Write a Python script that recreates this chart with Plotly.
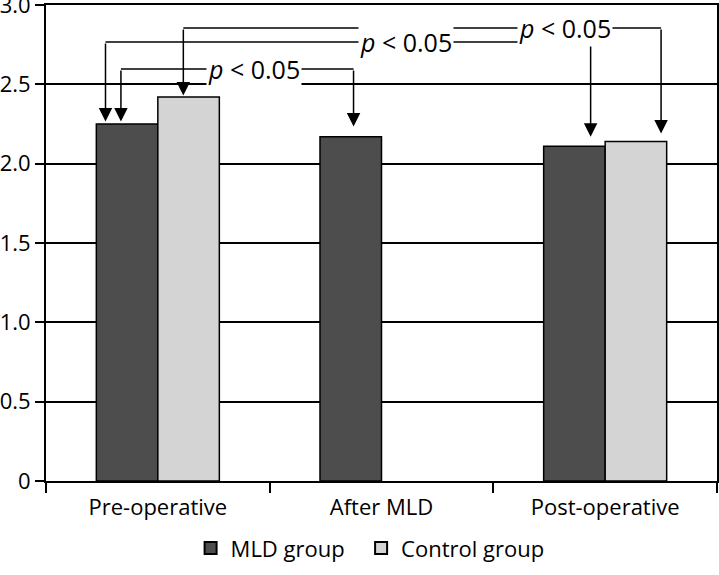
import plotly.graph_objects as go

categories = ["Pre-operative", "After MLD", "Post-operative"]
mld_group = [2.25, 2.17, 2.11]
control_group = [2.42, None, 2.14]
series_names = ["MLD group", "Control group"]
y_ticks = [0, 0.5, 1.0, 1.5, 2.0, 2.5, 3.0]
y_tick_labels = ["0", "0.5", "1.0", "1.5", "2.0", "2.5", "3.0"]

# significance brackets: (left x, left tip y, right x, right tip y, bracket y, label x)
brackets = [
    (-0.165, 2.265, 0.875, 2.235, 2.597, 0.43),
    (-0.234, 2.265, 1.935, 2.17, 2.767, 1.108),
    (0.114, 2.43, 2.25, 2.19, 2.855, 1.82),
]
p_label = "<i>p</i> < 0.05"

FONT = "Open Sans"

fig = go.Figure()
fig.add_trace(go.Bar(
    x=categories, y=mld_group, name=series_names[0] + "&nbsp;&nbsp;",
    marker=dict(color="#4d4d4d", line=dict(color="black", width=1.5)),
))
fig.add_trace(go.Bar(
    x=categories, y=control_group, name=series_names[1],
    marker=dict(color="#d4d4d4", line=dict(color="black", width=1.5)),
))

annotations = []
shapes = []
for xl, yl, xr, yr, yb, xt in brackets:
    shapes.append(dict(type="line", xref="x", yref="y", x0=xl, x1=xr, y0=yb, y1=yb,
                       line=dict(color="black", width=1.5)))
    for x, y in [(xl, yl), (xr, yr)]:
        annotations.append(dict(x=x, y=y, ax=x, ay=yb, axref="x", ayref="y",
                                xref="x", yref="y", text="", showarrow=True,
                                arrowhead=2, arrowsize=1.8, arrowwidth=1.5,
                                arrowcolor="black"))
    annotations.append(dict(x=xt, y=yb, xref="x", yref="y", text=p_label,
                            showarrow=False, bgcolor="white", borderpad=1,
                            font=dict(family=FONT, size=25, color="black")))

fig.update_layout(
    width=719, height=575,
    margin=dict(l=46, r=2, t=5, b=94),
    paper_bgcolor="white", plot_bgcolor="white",
    barmode="group", bargap=0.45, bargroupgap=0,
    font=dict(family=FONT, size=22, color="black"),
    showlegend=True,
    legend=dict(orientation="h", x=0.483, xanchor="center", y=-0.141, yanchor="middle",
                font=dict(family=FONT, size=22), itemsizing="constant"),
    shapes=shapes,
    annotations=annotations,
)
fig.update_xaxes(
    range=[-0.5, 2.5], showline=True, linecolor="black", linewidth=2, mirror=True,
    ticks="outside", tickson="boundaries", ticklen=10, tickwidth=2, tickcolor="black",
    ticklabelstandoff=6, showgrid=False, automargin=False,
)
fig.update_yaxes(
    range=[0, 3], tickvals=y_ticks, ticktext=y_tick_labels,
    showline=True, linecolor="black", linewidth=2, mirror=True,
    ticks="outside", ticklen=9, tickwidth=2, tickcolor="black",
    ticklabeloverflow="allow",
    showgrid=True, gridcolor="black", gridwidth=2, zeroline=False,
    automargin=False,
)

# page body has a default 8px margin; drop it so the figure sits at the corner
fig.write_html("out.html", config={"displayModeBar": False},
               post_script="document.body.style.margin='0';")
